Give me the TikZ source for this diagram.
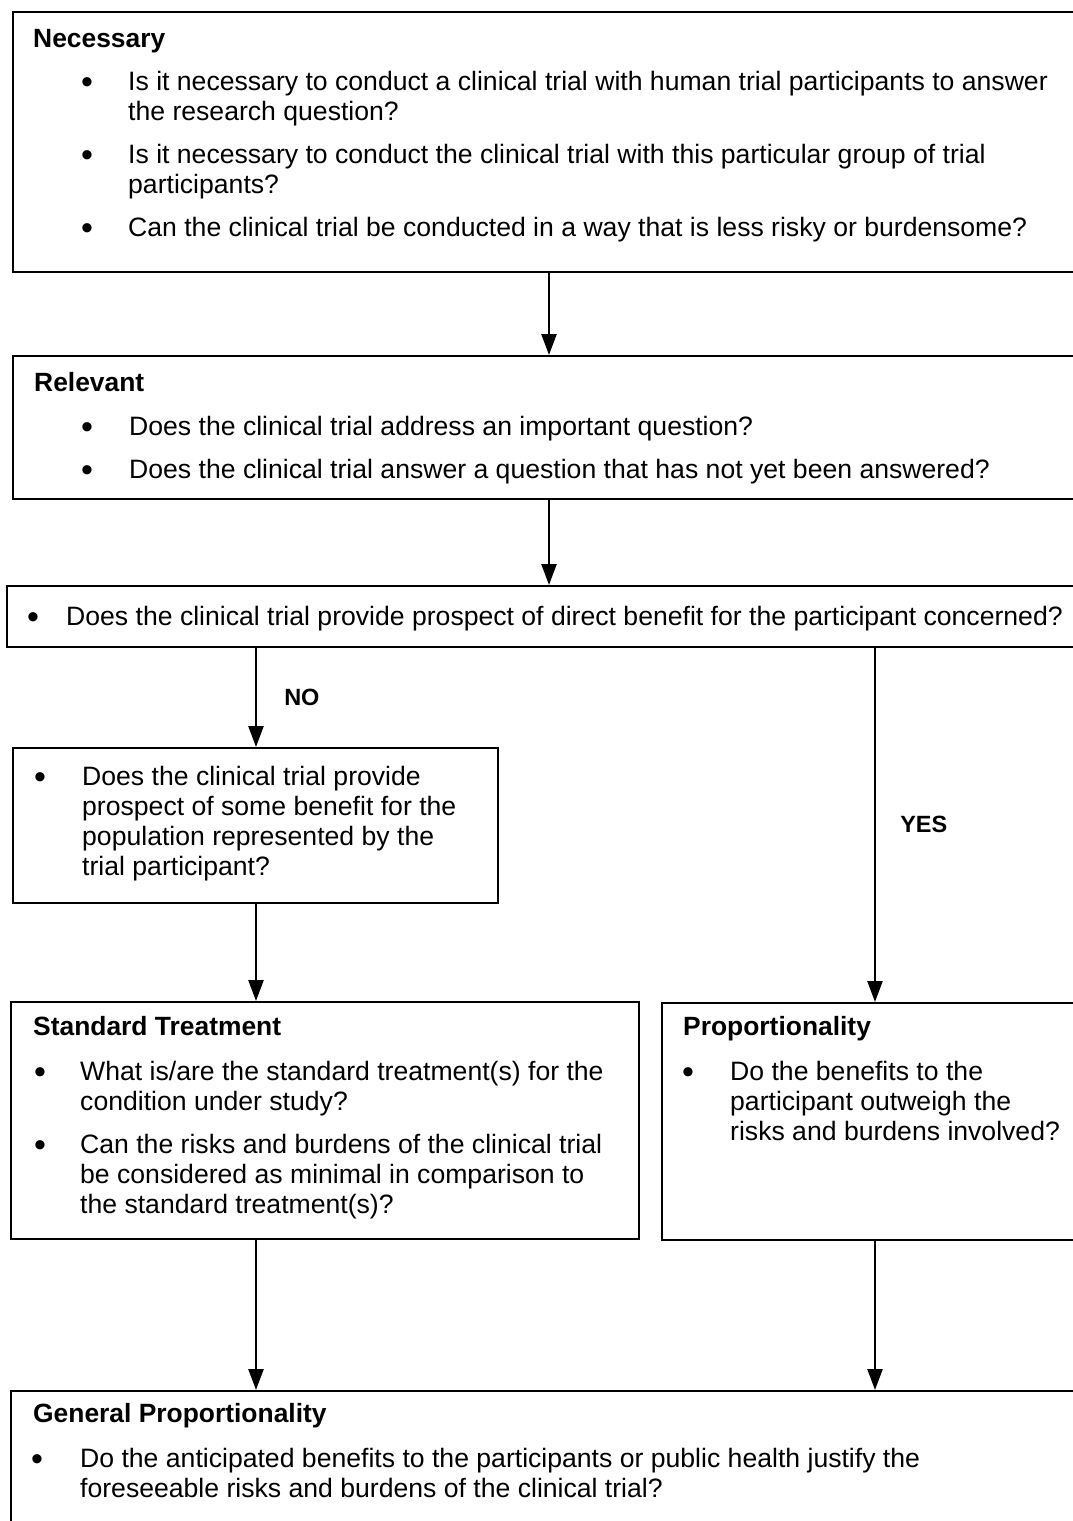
\documentclass[tikz,border=0pt]{standalone}
\usepackage{fontspec}
\setmainfont{Liberation Sans}
\usetikzlibrary{arrows.meta,calc}
\tikzstyle{blk}=[draw, line width=1.5pt, anchor=north west, inner sep=0pt]
\tikzstyle{txt}=[anchor=base west, inner sep=0pt, align=left, font=\fontsize{26.6}{30}\selectfont]
\tikzstyle{ttl}=[txt, font=\fontsize{26.4}{30}\selectfont\bfseries]
\tikzstyle{bul}=[txt, anchor=base, yshift=-3pt, font=\fontsize{34}{30}\selectfont]
\tikzstyle{flow}=[-{Triangle[length=21pt,width=15pt]}, line width=2.5pt]
\tikzstyle{lbl}=[anchor=west, inner sep=0pt, xshift=27pt, font=\fontsize{23.5}{26}\selectfont\bfseries]

\begin{document}
\begin{tikzpicture}[x=1pt,y=-1pt]
\useasboundingbox (0,0) rectangle (1073,1521);
\clip (0,0) rectangle (1073,1521);
% boxes
\node[blk, minimum width=1078pt, minimum height=260pt] (nec) at (12,11) {};
\node[blk, minimum width=1078pt, minimum height=143pt] (rel) at (12,355) {};
\node[blk, minimum width=1086pt, minimum height=61pt] (ben) at (6,585) {};
\node[blk, minimum width=485pt, minimum height=155pt] (pop) at (12,747) {};
\node[blk, minimum width=628pt, minimum height=237pt] (std) at (10,1001) {};
\node[blk, minimum width=440pt, minimum height=237pt] (prop) at (661,1002) {};
\node[blk, minimum width=1090pt, minimum height=200pt] (gen) at (10,1390) {};
\coordinate (colL) at (256,0);
\coordinate (colM) at (549,0);
\coordinate (colR) at (875,0);
% texts (multi-line nodes sit on their last baseline)
\node[ttl] (necT) at (33,47) {Necessary};
\node[bul] (necB1) at (87,90) {\textbullet};
\node[txt] (nec1) at (128,120) {Is it necessary to conduct a clinical trial with human trial participants to answer\\the research question?};
\node[bul] (necB2) at (87,163) {\textbullet};
\node[txt] (nec2) at (128,193) {Is it necessary to conduct the clinical trial with this particular group of trial\\participants?};
\node[bul] (necB3) at (87,236) {\textbullet};
\node[txt] (nec3) at (128,236) {Can the clinical trial be conducted in a way that is less risky or burdensome?};
\node[ttl] (relT) at (34,391) {Relevant};
\node[bul] (relB1) at (87,435) {\textbullet};
\node[txt] (rel1) at (129,435) {Does the clinical trial address an important question?};
\node[bul] (relB2) at (87,478) {\textbullet};
\node[txt] (rel2) at (129,478) {Does the clinical trial answer a question that has not yet been answered?};
\node[bul] (benB) at (33,625) {\textbullet};
\node[txt] (ben1) at (66,625) {Does the clinical trial provide prospect of direct benefit for the participant concerned?};
\node[bul] (popB) at (40,785) {\textbullet};
\node[txt] (pop1) at (82,875) {Does the clinical trial provide\\prospect of some benefit for the\\population represented by the\\trial participant?};
\node[ttl] (stdT) at (33,1035) {Standard Treatment};
\node[bul] (stdB1) at (40,1080) {\textbullet};
\node[txt] (std1) at (80,1110) {What is/are the standard treatment(s) for the\\condition under study?};
\node[bul] (stdB2) at (40,1153) {\textbullet};
\node[txt] (std2) at (80,1213) {Can the risks and burdens of the clinical trial\\be considered as minimal in comparison to\\the standard treatment(s)?};
\node[ttl] (propT) at (683,1035) {Proportionality};
\node[bul] (propB) at (688,1080) {\textbullet};
\node[txt] (prop1) at (730,1140) {Do the benefits to the\\participant outweigh the\\risks and burdens involved?};
\node[ttl] (genT) at (33,1422) {General Proportionality};
\node[bul] (genB) at (37,1467) {\textbullet};
\node[txt] (gen1) at (80,1497) {Do the anticipated benefits to the participants or public health justify the\\foreseeable risks and burdens of the clinical trial?};
% arrows
\draw[flow] (nec.south -| colM) -- (rel.north -| colM);
\draw[flow] (rel.south -| colM) -- (ben.north -| colM);
\draw[flow] (ben.south -| colL) -- node[lbl] (no) {NO} (pop.north -| colL);
\draw[flow] (ben.south -| colR) -- node[lbl, xshift=-3pt] (yes) {YES} (prop.north -| colR);
\draw[flow] (pop.south -| colL) -- (std.north -| colL);
\draw[flow] (std.south -| colL) -- (gen.north -| colL);
\draw[flow] (prop.south -| colR) -- (gen.north -| colR);
\end{tikzpicture}
\end{document}
